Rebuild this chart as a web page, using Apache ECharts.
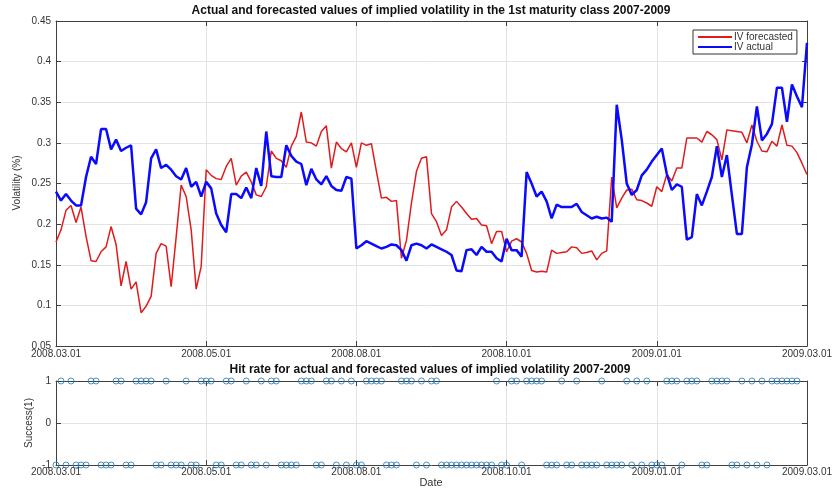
<!DOCTYPE html>
<html>
<head>
<meta charset="utf-8">
<script src="https://cdn.jsdelivr.net/npm/echarts@6/dist/echarts.min.js"></script>
<style>
  html, body { margin: 0; padding: 0; background: #fff; }
  #main { width: 835px; height: 489px; }
</style>
</head>
<body>
<div id="main"></div>
<script>
// tick labels, one every 30 observations
const dateLabels = ['2008.03.01', '2008.05.01', '2008.08.01', '2008.10.01', '2009.01.01', '2009.03.01'];

// IV forecasted (red)
const forecasted = [
  0.178, 0.193, 0.217, 0.223, 0.202, 0.221, 0.185, 0.155, 0.154, 0.166,
  0.172, 0.197, 0.175, 0.124, 0.154, 0.120, 0.129, 0.091, 0.099, 0.111,
  0.164, 0.176, 0.173, 0.123, 0.184, 0.248, 0.234, 0.193, 0.120, 0.148,
  0.267, 0.260, 0.256, 0.255, 0.271, 0.281, 0.248, 0.259, 0.264, 0.252,
  0.236, 0.234, 0.246, 0.290, 0.281, 0.278, 0.270, 0.296, 0.308, 0.338,
  0.301, 0.300, 0.296, 0.314, 0.321, 0.269, 0.301, 0.293, 0.289, 0.300,
  0.270, 0.300, 0.297, 0.299, 0.265, 0.232, 0.233, 0.228, 0.229, 0.158,
  0.180, 0.226, 0.265, 0.281, 0.283, 0.213, 0.203, 0.186, 0.193, 0.221,
  0.228, 0.221, 0.213, 0.206, 0.207, 0.199, 0.198, 0.176, 0.191, 0.191,
  0.166, 0.179, 0.182, 0.178, 0.164, 0.143, 0.141, 0.142, 0.141, 0.168,
  0.164, 0.165, 0.166, 0.172, 0.171, 0.164, 0.165, 0.167, 0.156, 0.164,
  0.167, 0.258, 0.220, 0.232, 0.242, 0.243, 0.230, 0.229, 0.226, 0.222,
  0.246, 0.240, 0.261, 0.253, 0.269, 0.269, 0.306, 0.306, 0.306, 0.301,
  0.314, 0.310, 0.304, 0.279, 0.316, 0.315, 0.314, 0.313, 0.300, 0.322,
  0.302, 0.290, 0.289, 0.302, 0.296, 0.322, 0.297, 0.296, 0.288, 0.275,
  0.261
];

// IV actual (blue)
const actual = [
  0.240, 0.229, 0.237, 0.229, 0.223, 0.223, 0.258, 0.283, 0.274, 0.317,
  0.317, 0.292, 0.304, 0.290, 0.294, 0.297, 0.219, 0.212, 0.227, 0.281,
  0.292, 0.269, 0.273, 0.267, 0.259, 0.255, 0.269, 0.246, 0.252, 0.234,
  0.252, 0.244, 0.213, 0.199, 0.190, 0.237, 0.237, 0.232, 0.245, 0.232,
  0.269, 0.247, 0.314, 0.259, 0.258, 0.258, 0.297, 0.284, 0.277, 0.274,
  0.248, 0.268, 0.255, 0.249, 0.259, 0.247, 0.242, 0.241, 0.258, 0.256,
  0.170, 0.174, 0.179, 0.176, 0.173, 0.170, 0.172, 0.175, 0.174, 0.168,
  0.155, 0.174, 0.176, 0.174, 0.170, 0.175, 0.172, 0.169, 0.166, 0.162,
  0.143, 0.142, 0.168, 0.169, 0.162, 0.172, 0.166, 0.166, 0.158, 0.154,
  0.182, 0.168, 0.168, 0.160, 0.264, 0.250, 0.234, 0.240, 0.228, 0.207,
  0.224, 0.221, 0.221, 0.221, 0.225, 0.215, 0.211, 0.207, 0.209, 0.207,
  0.208, 0.203, 0.347, 0.304, 0.250, 0.236, 0.242, 0.260, 0.267, 0.277,
  0.285, 0.293, 0.262, 0.242, 0.249, 0.246, 0.181, 0.184, 0.237, 0.223,
  0.240, 0.258, 0.296, 0.258, 0.285, 0.236, 0.188, 0.188, 0.270, 0.298,
  0.345, 0.303, 0.311, 0.323, 0.368, 0.368, 0.326, 0.372, 0.357, 0.344,
  0.423
];

// hit (1) / miss (-1) per observation, null = no marker
const hits = [
  -1, 1, -1, 1, -1, -1, -1, 1, 1, -1,
  -1, -1, 1, 1, -1, -1, 1, 1, 1, 1,
  -1, -1, 1, -1, -1, -1, 1, -1, -1, 1,
  1, 1, -1, -1, 1, 1, -1, -1, 1, -1,
  -1, 1, -1, 1, 1, -1, -1, -1, -1, 1,
  1, 1, -1, -1, 1, 1, -1, 1, -1, 1,
  -1, -1, 1, 1, 1, 1, -1, -1, -1, 1,
  1, 1, -1, 1, -1, 1, 1, -1, -1, -1,
  -1, -1, -1, -1, -1, -1, -1, -1, 1, -1,
  -1, 1, 1, -1, 1, 1, 1, 1, -1, -1,
  -1, 1, -1, -1, 1, -1, -1, -1, -1, 1,
  -1, -1, -1, -1, 1, -1, 1, -1, 1, -1,
  -1, -1, 1, 1, 1, -1, 1, 1, 1, -1,
  -1, 1, 1, 1, 1, -1, -1, 1, -1, 1,
  -1, 1, -1, 1, 1, 1, 1, 1, 1, null,
  null
];

const step = 30;
const lastIdx = forecasted.length - 1;
const axisColor = '#404040';
const gridColor = '#e3e3e3';
const font = '"Liberation Sans", Arial, sans-serif';

var chartDom = document.getElementById('main');
var myChart = echarts.init(chartDom, null, { renderer: 'canvas' });

function xAxisFor(grid, top) {
  return {
    type: 'value',
    gridIndex: grid,
    position: top ? 'top' : 'bottom',
    min: 0,
    max: lastIdx,
    interval: step,
    axisLine: { show: true, onZero: false, lineStyle: { color: axisColor, width: 1 } },
    axisTick: { show: true, inside: true, length: 5, lineStyle: { color: axisColor } },
    axisLabel: {
      show: !top,
      margin: grid === 0 ? 3 : 2,
      fontSize: 10,
      fontFamily: font,
      color: '#333',
      formatter: function (v) { return dateLabels[Math.round(v / step)]; }
    },
    splitLine: { show: !top, lineStyle: { color: gridColor } }
  };
}

function yAxisFor(grid, right, min, max, interval) {
  return {
    type: 'value',
    gridIndex: grid,
    position: right ? 'right' : 'left',
    min: min,
    max: max,
    interval: interval,
    axisLine: { show: true, onZero: false, lineStyle: { color: axisColor, width: 1 } },
    axisTick: { show: true, inside: true, length: 5, lineStyle: { color: axisColor } },
    axisLabel: {
      show: !right,
      margin: 5,
      fontSize: 10,
      fontFamily: font,
      color: '#333',
      formatter: function (v) { return String(+v.toFixed(2)); }
    },
    splitLine: { show: !right, lineStyle: { color: gridColor } }
  };
}

const hitPoints = [];
hits.forEach(function (h, i) {
  if (h !== null) hitPoints.push([i, h]);
});

var option = {
  backgroundColor: '#fff',
  animation: false,
  grid: [
    { left: 56, top: 21, width: 752, height: 325 },
    { left: 56, top: 381, width: 752, height: 84 }
  ],
  xAxis: [xAxisFor(0, false), xAxisFor(0, true), xAxisFor(1, false), xAxisFor(1, true)],
  yAxis: [
    yAxisFor(0, false, 0.05, 0.45, 0.05),
    yAxisFor(0, true, 0.05, 0.45, 0.05),
    yAxisFor(1, false, -1, 1, 1),
    yAxisFor(1, true, -1, 1, 1)
  ],
  legend: {
    orient: 'vertical',
    left: 693,
    top: 30,
    padding: [2, 4, 2, 5],
    itemGap: 0,
    itemWidth: 34,
    itemHeight: 2,
    backgroundColor: '#fff',
    borderColor: '#333',
    borderWidth: 1,
    borderRadius: 0,
    textStyle: { fontSize: 10, fontFamily: font, color: '#333', padding: [0, 0, 0, -3] },
    data: [
      { name: 'IV forecasted', icon: 'rect' },
      { name: 'IV actual', icon: 'rect' }
    ]
  },
  graphic: [
    {
      type: 'text', x: 431, y: 11,
      style: {
        text: 'Actual and forecasted values of implied volatility in the 1st maturity class 2007-2009',
        font: 'bold 12px ' + font, fill: '#111', textAlign: 'center', textVerticalAlign: 'middle'
      }
    },
    {
      type: 'text', x: 430, y: 370,
      style: {
        text: 'Hit rate for actual and forecasted values of implied volatility 2007-2009',
        font: 'bold 12px ' + font, fill: '#111', textAlign: 'center', textVerticalAlign: 'middle'
      }
    },
    {
      type: 'text', x: 17, y: 183, rotation: Math.PI / 2,
      style: { text: 'Volatility (%)', font: '10px ' + font, fill: '#333', textAlign: 'center', textVerticalAlign: 'middle' }
    },
    {
      type: 'text', x: 29, y: 423, rotation: Math.PI / 2,
      style: { text: 'Success(1)', font: '10px ' + font, fill: '#333', textAlign: 'center', textVerticalAlign: 'middle' }
    },
    {
      type: 'text', x: 431, y: 483,
      style: { text: 'Date', font: '11px ' + font, fill: '#333', textAlign: 'center', textVerticalAlign: 'middle' }
    }
  ],
  series: [
    {
      name: 'IV forecasted',
      type: 'line',
      xAxisIndex: 0,
      yAxisIndex: 0,
      symbol: 'none',
      color: '#e01b1b',
      lineStyle: { width: 1.5, color: '#e01b1b' },
      data: forecasted.map(function (v, i) { return [i, v]; }),
      z: 3
    },
    {
      name: 'IV actual',
      type: 'line',
      xAxisIndex: 0,
      yAxisIndex: 0,
      symbol: 'none',
      color: '#0a0aff',
      lineStyle: { width: 2.5, color: '#0a0aff' },
      data: actual.map(function (v, i) { return [i, v]; }),
      z: 4
    },
    {
      name: 'Hit',
      type: 'scatter',
      xAxisIndex: 2,
      yAxisIndex: 2,
      symbol: 'circle',
      symbolSize: 6,
      itemStyle: { color: 'rgba(0,0,0,0)', borderColor: '#1f77b4', borderWidth: 1 },
      data: hitPoints,
      z: 5
    }
  ]
};

option && myChart.setOption(option, true);
window.onresize = () => {
  myChart.resize();
};
</script>
</body>
</html>
